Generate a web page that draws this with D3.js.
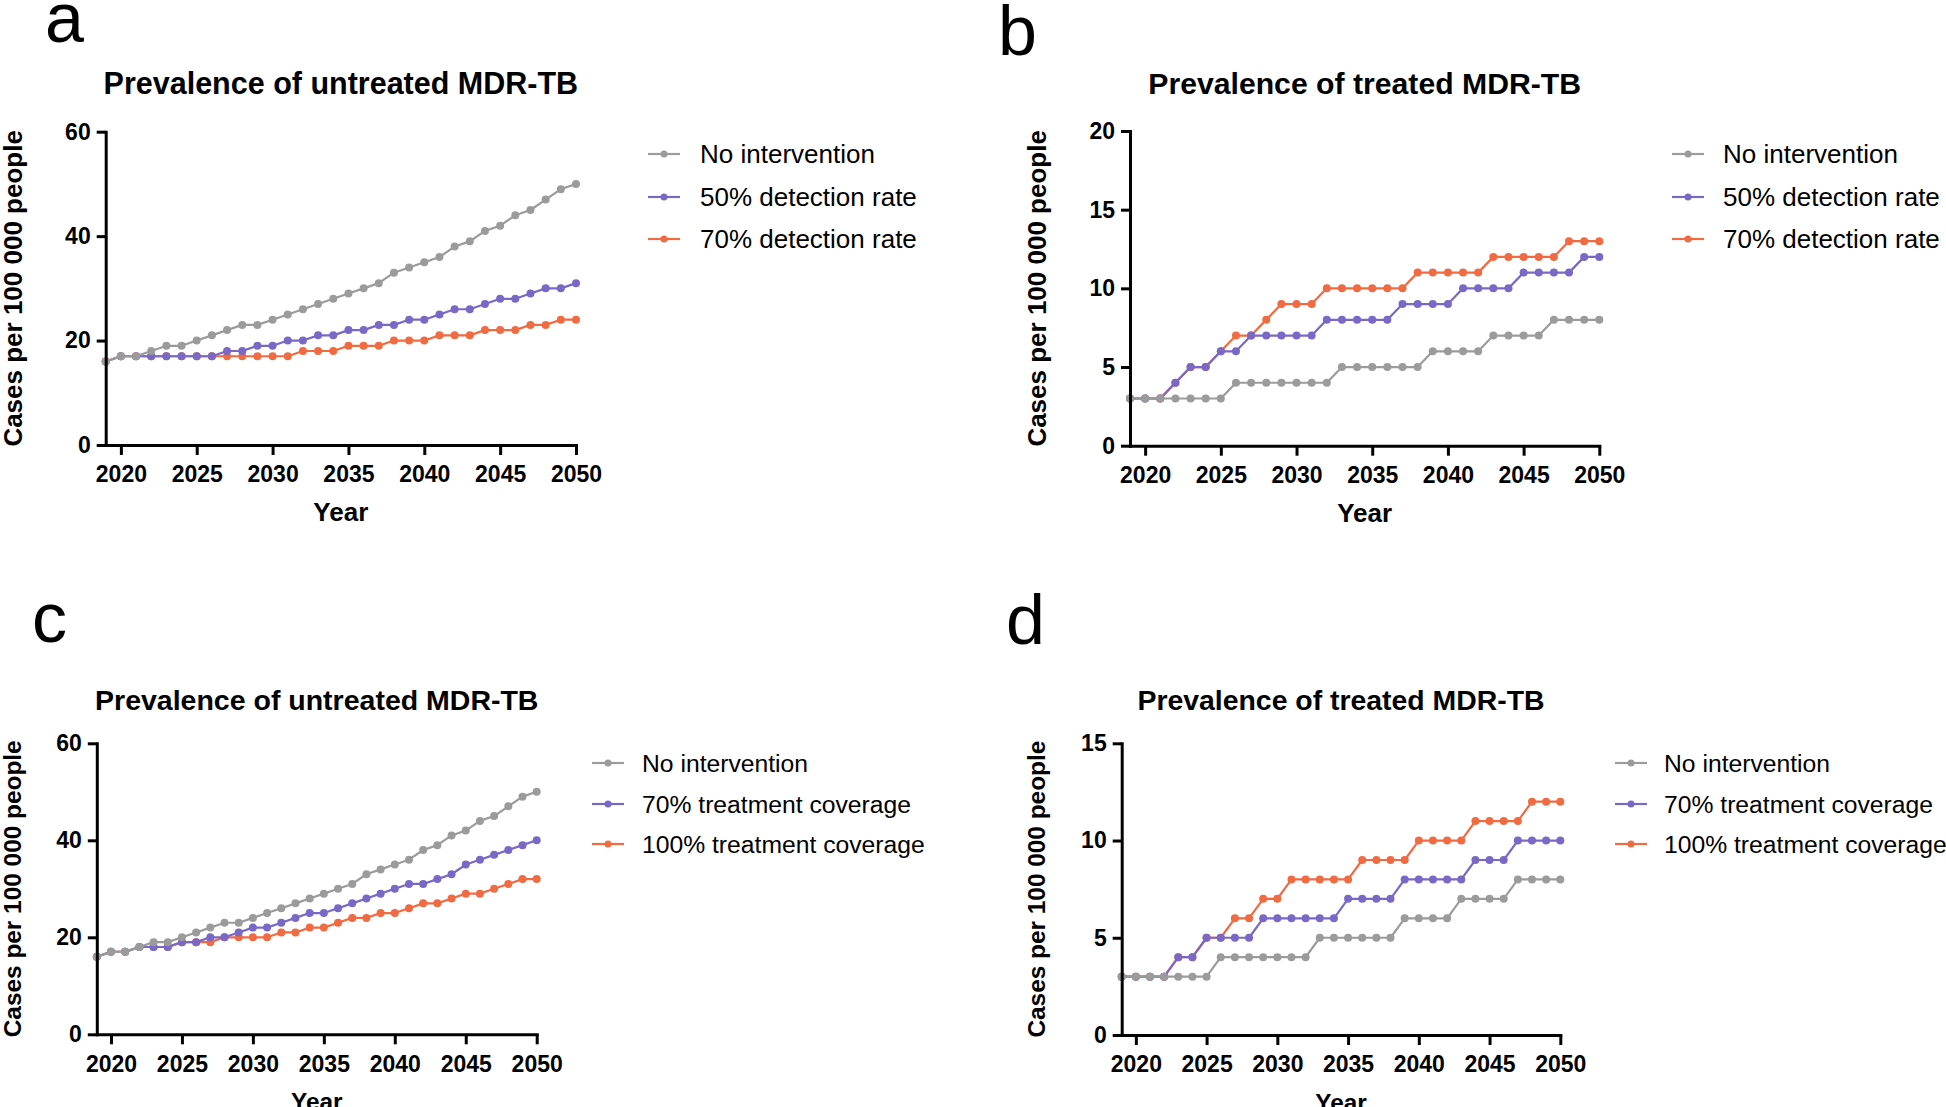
<!DOCTYPE html>
<html>
<head>
<meta charset="utf-8">
<script src="https://cdn.jsdelivr.net/npm/d3@7"></script>
<style>
  html, body { margin: 0; padding: 0; background: #fff; }
  svg { display: block; font-family: "Liberation Sans", Arial, Helvetica, sans-serif; }
</style>
</head>
<body>
<svg id="chart" width="1946" height="1107"></svg>
<script>
// ---------------- data ----------------
const years = [2019,2020,2021,2022,2023,2024,2025,2026,2027,2028,2029,2030,2031,2032,2033,2034,
               2035,2036,2037,2038,2039,2040,2041,2042,2043,2044,2045,2046,2047,2048,2049,2050];
const xTicks = [2020, 2025, 2030, 2035, 2040, 2045, 2050];

// Panel a – untreated, detection rate
const aNoIntervention = [16,17,17,18,19,19,20,21,22,23,23,24,25,26,27,28,29,30,31,33,34,35,36,38,39,41,42,44,45,47,49,50];
const aDetection50    = [16,17,17,17,17,17,17,17,18,18,19,19,20,20,21,21,22,22,23,23,24,24,25,26,26,27,28,28,29,30,30,31];
const aDetection70    = [16,17,17,17,17,17,17,17,17,17,17,17,17,18,18,18,19,19,19,20,20,20,21,21,21,22,22,22,23,23,24,24];

// Panel b – treated, detection rate
const bNoIntervention = [3,3,3,3,3,3,3,4,4,4,4,4,4,4,5,5,5,5,5,5,6,6,6,6,7,7,7,7,8,8,8,8];
const bDetection50    = [3,3,3,4,5,5,6,6,7,7,7,7,7,8,8,8,8,8,9,9,9,9,10,10,10,10,11,11,11,11,12,12];
const bDetection70    = [3,3,3,4,5,5,6,7,7,8,9,9,9,10,10,10,10,10,10,11,11,11,11,11,12,12,12,12,12,13,13,13];

// Panel c – untreated, treatment coverage
const cNoIntervention = [16,17,17,18,19,19,20,21,22,23,23,24,25,26,27,28,29,30,31,33,34,35,36,38,39,41,42,44,45,47,49,50];
const cCoverage70     = [16,17,17,18,18,18,19,19,20,20,21,22,22,23,24,25,25,26,27,28,29,30,31,31,32,33,35,36,37,38,39,40];
const cCoverage100    = [16,17,17,18,18,18,19,19,19,20,20,20,20,21,21,22,22,23,24,24,25,25,26,27,27,28,29,29,30,31,32,32];

// Panel d – treated, treatment coverage
const dNoIntervention = [3,3,3,3,3,3,3,4,4,4,4,4,4,4,5,5,5,5,5,5,6,6,6,6,7,7,7,7,8,8,8,8];
const dCoverage70     = [3,3,3,3,4,4,5,5,5,5,6,6,6,6,6,6,7,7,7,7,8,8,8,8,8,9,9,9,10,10,10,10];
const dCoverage100    = [3,3,3,3,4,4,5,5,6,6,7,7,8,8,8,8,8,9,9,9,9,10,10,10,10,11,11,11,11,12,12,12];

const seriesColors = { none: "#9b9b9b", mid: "#7a68c6", high: "#f06a42" };

const titleUntreated = "Prevalence of untreated MDR-TB";
const titleTreated = "Prevalence of treated MDR-TB";
const yLabel = "Cases per 100 000 people";
const xLabel = "Year";

// ---------------- panel layout ----------------
const panels = [
  { letter: "a", lx: 45, ly: 42, title: titleUntreated, titleSize: 30.5, yLabelSize: 26,
    x0: 105.7, x1: 576, y0: 445, y1: 131.7, yMax: 60, yTicks: [0,20,40,60],
    yLabelX: 22, titleY: 94, legendLine: 648, legendText: 700, legendY: [154,197,239], legendSize: 26,
    series: [
      { name: "70% detection rate", values: aDetection70, color: seriesColors.high },
      { name: "50% detection rate", values: aDetection50, color: seriesColors.mid },
      { name: "No intervention", values: aNoIntervention, color: seriesColors.none } ] },
  { letter: "b", lx: 998, ly: 55, title: titleTreated, titleSize: 30.2, yLabelSize: 26,
    x0: 1130, x1: 1599.3, y0: 445.7, y1: 131, yMax: 20, yTicks: [0,5,10,15,20],
    yLabelX: 1046, titleY: 94, legendLine: 1672, legendText: 1723, legendY: [154,197,239], legendSize: 26,
    series: [
      { name: "70% detection rate", values: bDetection70, color: seriesColors.high },
      { name: "50% detection rate", values: bDetection50, color: seriesColors.mid },
      { name: "No intervention", values: bNoIntervention, color: seriesColors.none } ] },
  { letter: "c", lx: 32, ly: 642, title: titleUntreated, titleSize: 28.5, yLabelSize: 24.4,
    x0: 96.8, x1: 536.7, y0: 1034.3, y1: 743.3, yMax: 60, yTicks: [0,20,40,60],
    yLabelX: 21, titleY: 710, legendLine: 592, legendText: 642, legendY: [763,804,844], legendSize: 24.7,
    series: [
      { name: "100% treatment coverage", values: cCoverage100, color: seriesColors.high },
      { name: "70% treatment coverage", values: cCoverage70, color: seriesColors.mid },
      { name: "No intervention", values: cNoIntervention, color: seriesColors.none } ] },
  { letter: "d", lx: 1006, ly: 644, title: titleTreated, titleSize: 28.4, yLabelSize: 24.4,
    x0: 1121.7, x1: 1560.3, y0: 1035, y1: 743.3, yMax: 15, yTicks: [0,5,10,15],
    yLabelX: 1045, titleY: 710, legendLine: 1615, legendText: 1664, legendY: [763,804,844], legendSize: 24.7,
    series: [
      { name: "100% treatment coverage", values: dCoverage100, color: seriesColors.high },
      { name: "70% treatment coverage", values: dCoverage70, color: seriesColors.mid },
      { name: "No intervention", values: dNoIntervention, color: seriesColors.none } ] }
];

const svg = d3.select("#chart");

panels.forEach(p => {
  const g = svg.append("g");
  const x = d3.scaleLinear().domain([2019, 2050]).range([p.x0, p.x1]);
  const y = d3.scaleLinear().domain([0, p.yMax]).range([p.y0, p.y1]);

  // panel letter
  g.append("text").attr("x", p.lx).attr("y", p.ly)
    .attr("font-size", 70).attr("fill", "#000").text(p.letter);

  // title
  g.append("text").attr("x", (p.x0 + p.x1) / 2).attr("y", p.titleY)
    .attr("text-anchor", "middle").attr("font-size", p.titleSize).attr("font-weight", "bold")
    .text(p.title);

  // series (orange first, purple, gray on top)
  const line = d3.line().x((d, i) => x(years[i])).y(d => y(d));
  p.series.forEach(s => {
    g.append("path").datum(s.values)
      .attr("fill", "none").attr("stroke", s.color).attr("stroke-width", 2.2)
      .attr("stroke-linejoin", "round").attr("d", line);
    g.selectAll(null).data(s.values).enter().append("circle")
      .attr("cx", (d, i) => x(years[i])).attr("cy", d => y(d))
      .attr("r", 4).attr("fill", s.color);
  });

  // axes
  const yAxis = d3.axisLeft(y).tickValues(p.yTicks).tickSize(9).tickSizeOuter(0).tickPadding(6);
  const xAxis = d3.axisBottom(x).tickValues(xTicks).tickFormat(d3.format("d"))
    .tickSize(10).tickSizeOuter(0).tickPadding(11);

  const ya = g.append("g").attr("transform", `translate(${p.x0},0)`).call(yAxis);
  const xa = g.append("g").attr("transform", `translate(0,${p.y0})`).call(xAxis);
  [ya, xa].forEach(a => {
    a.select(".domain").attr("stroke", "#000").attr("stroke-width", 3).attr("stroke-linecap", "square");
    a.selectAll(".tick line").attr("stroke", "#000").attr("stroke-width", 3);
    a.selectAll(".tick text").attr("fill", "#000").attr("font-size", 23).attr("font-weight", "bold")
      .attr("font-family", "'Liberation Sans', Arial, Helvetica, sans-serif");
  });

  // axis titles
  g.append("text")
    .attr("transform", `translate(${p.yLabelX},${(p.y0 + p.y1) / 2}) rotate(-90)`)
    .attr("text-anchor", "middle").attr("font-size", p.yLabelSize).attr("font-weight", "bold")
    .text(yLabel);
  g.append("text").attr("x", (p.x0 + p.x1) / 2).attr("y", p.y0 + 76)
    .attr("text-anchor", "middle").attr("font-size", p.yLabelSize).attr("font-weight", "bold")
    .text(xLabel);

  // legend (gray, purple, orange order)
  const legendSeries = p.series.slice().reverse();
  legendSeries.forEach((s, i) => {
    const ly = p.legendY[i];
    g.append("line").attr("x1", p.legendLine).attr("x2", p.legendLine + 32)
      .attr("y1", ly).attr("y2", ly).attr("stroke", s.color).attr("stroke-width", 2.2);
    g.append("circle").attr("cx", p.legendLine + 16).attr("cy", ly).attr("r", 3.5).attr("fill", s.color);
    g.append("text").attr("x", p.legendText).attr("y", ly + p.legendSize * 0.35)
      .attr("font-size", p.legendSize).attr("fill", "#000").text(s.name);
  });
});
</script>
</body>
</html>
